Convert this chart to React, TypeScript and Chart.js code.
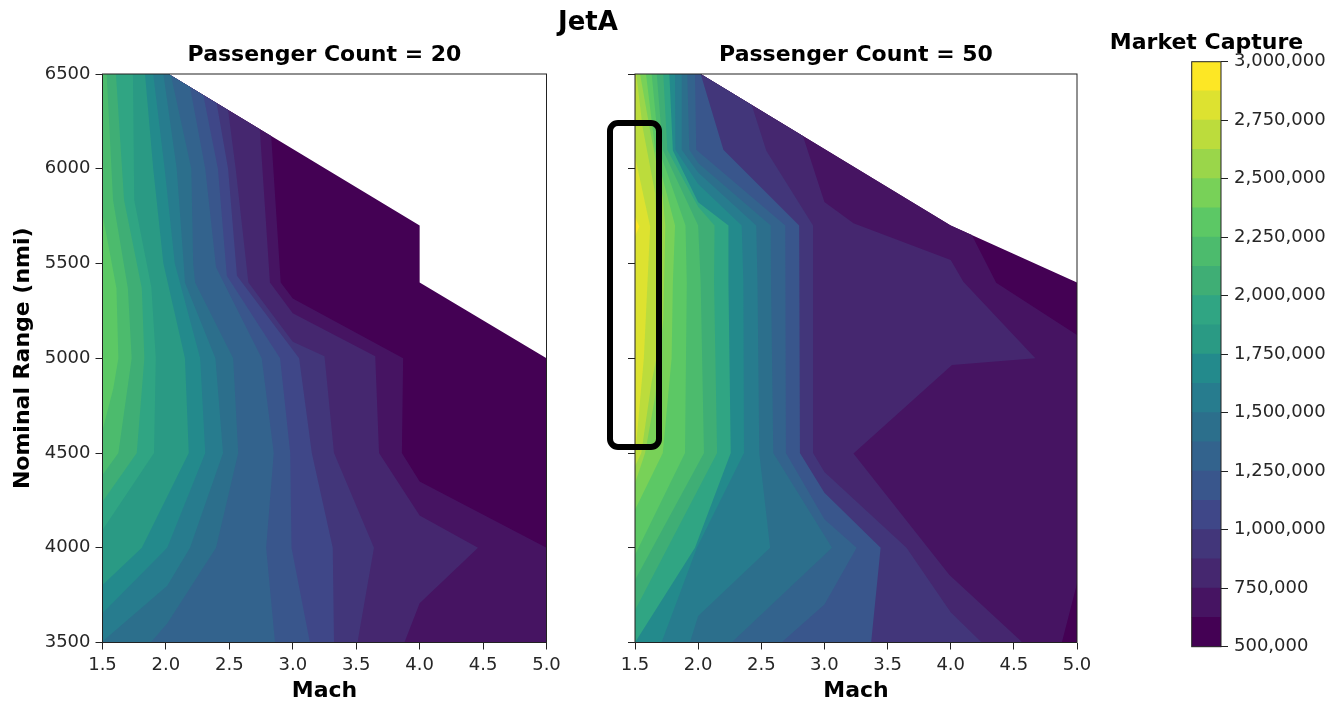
import React, { useEffect, useRef } from "react";
import { Chart, registerables } from "chart.js";

Chart.register(...registerables);

type P = [number, number];

// colours of the 20 contour bands, low to high
const bandColors = [
  "#440154", "#461462", "#45276f", "#42367a", "#3f4788", "#39568c", "#33638d", "#2c6f8c", "#277c8e", "#238a8c",
  "#2a9a84", "#30a583", "#3fae75", "#4cbb6d", "#5cc865", "#78d158", "#9ad64a", "#bcdc3c", "#dde230", "#fde725",
];
const levels = [500000, 625000, 750000, 875000, 1000000, 1125000, 1250000, 1375000, 1500000, 1625000, 1750000, 1875000,
  2000000, 2125000, 2250000, 2375000, 2500000, 2625000, 2750000, 2875000, 3000000];

// feasible regions (Mach, nominal range)
const leftFeasible: P[] = [[1.5, 3500], [1.5, 6500], [2.02, 6500], [4, 5700], [4, 5400], [5, 5000], [5, 3500]];
const rightFeasible: P[] = [[1.5, 3500], [1.5, 6500], [2.02, 6500], [4, 5700], [5, 5400], [5, 3500]];

// left panel: lower boundary of each band
const left1: P[] = [[2.83, 6173], [2.905, 5400], [3, 5315], [3.87, 5000], [3.86, 4500], [4, 4350], [5, 4000]];
const left2: P[] = [[2.74, 6209], [2.82, 5400], [3, 5238], [3.65, 5010], [3.68, 4500], [4, 4170], [4.46, 4000], [4, 3707], [3.88, 3500]];
const left3: P[] = [[2.49, 6310], [2.55, 6000], [2.65, 5400], [3, 5087], [3.25, 5010], [3.325, 4500], [3.64, 4000], [3.51, 3500]];
const left4: P[] = [[2.4, 6346], [2.49, 6000], [2.56, 5435], [3.05, 5000], [3.15, 4500], [3.315, 4000], [3.325, 3500]];
const left5: P[] = [[2.295, 6388], [2.41, 6000], [2.48, 5435], [2.9, 5000], [2.98, 4500], [2.99, 4000], [3.135, 3500]];
const left6: P[] = [[2.19, 6431], [2.31, 6000], [2.395, 5480], [2.755, 5000], [2.85, 4500], [2.79, 4000], [2.86, 3500]];
const left7: P[] = [[2.04, 6492], [2.2, 6000], [2.215, 5500], [2.23, 5400], [2.53, 5000], [2.57, 4500], [2.395, 4000], [2.01, 3600], [1.88, 3500]];
const left8: P[] = [[1.98, 6500], [2.085, 6000], [2.14, 5500], [2.15, 5400], [2.39, 5000], [2.45, 4500], [2.19, 4000], [2.01, 3800], [1.5, 3505]];
const left9: P[] = [[1.9, 6500], [1.99, 6000], [2.07, 5500], [2.27, 5000], [2.31, 4500], [2.01, 4000], [1.5, 3654]];
const left10: P[] = [[1.835, 6500], [1.9, 6000], [1.98, 5500], [2.15, 5000], [2.18, 4500], [1.81, 4000], [1.5, 3803]];
const left11: P[] = [[1.74, 6500], [1.75, 5835], [1.885, 5375], [1.92, 5000], [1.906, 4500], [1.5, 4094]];
const left12: P[] = [[1.606, 6500], [1.67, 5835], [1.81, 5370], [1.83, 5000], [1.77, 4500], [1.5, 4243]];
const left13: P[] = [[1.533, 6500], [1.583, 5835], [1.7, 5370], [1.73, 5000], [1.625, 4500], [1.5, 4384]];
const left14: P[] = [[1.5, 5760], [1.61, 5370], [1.625, 5000], [1.585, 4840], [1.5, 4620]];
const leftBands: [number, P[]][] = [[1, left1], [2, left2], [3, left3], [4, left4], [5, left5], [6, left6], [7, left7], [8, left8],
  [9, left9], [10, left10], [11, left11], [12, left12], [13, left13], [14, left14]];

// right panel: lower boundary of each band
const right1: P[] = [[4, 5700], [4.167, 5650], [4.36, 5399], [5, 5123], [5, 3812], [4.88, 3500]];
const right2: P[] = [[2.83, 6173], [3, 5825], [3.23, 5712], [4, 5518], [4.1, 5404], [4.67, 5000], [4.01, 4965], [3.23, 4498], [3.99, 3856], [4.56, 3505], [4.56, 3500]];
const right3: P[] = [[2.424, 6337], [2.54, 6095], [2.91, 5700], [2.91, 4500], [3, 4400], [3.65, 4000], [4, 3660], [4.245, 3500]];
const right5: P[] = [[2.02, 6500], [2.2, 6100], [2.8, 5700], [2.806, 4500], [3, 4290], [3.445, 4000], [3.37, 3500]];
const right6: P[] = [[1.975, 6500], [1.985, 6100], [2.69, 5700], [2.695, 4500], [3, 4150], [3.255, 4000], [3, 3700], [2.66, 3500]];
const right7: P[] = [[1.914, 6500], [1.93, 6100], [2, 6030], [2.575, 5700], [2.577, 5400], [2.595, 4500], [3.06, 4000], [2.265, 3500]];
const right8: P[] = [[1.87, 6500], [1.87, 6100], [2, 5980], [2.46, 5700], [2.47, 5400], [2.484, 4500], [2.57, 4000], [2, 3640], [1.935, 3500]];
const right9: P[] = [[1.817, 6500], [1.82, 6100], [2, 5920], [2.345, 5700], [2.358, 5400], [2.363, 4500], [1.99, 4000], [1.71, 3500]];
const right11: P[] = [[1.772, 6500], [1.8, 6096], [2, 5823], [2.24, 5700], [2.24, 5400], [2.258, 4500], [1.975, 4000], [1.5, 3500]];
const right12: P[] = [[1.724, 6500], [1.756, 6100], [2, 5800], [2.13, 5700], [2.126, 5400], [2.15, 4500], [1.5, 3670]];
const right13: P[] = [[1.672, 6500], [1.72, 6100], [2, 5700], [2.02, 5400], [2.046, 4500], [1.5, 3830]];
const right14: P[] = [[1.632, 6500], [1.69, 6100], [1.9, 5700], [1.91, 5400], [1.896, 4500], [1.5, 3962]];
const right15: P[] = [[1.587, 6500], [1.66, 6100], [1.817, 5700], [1.8, 5400], [1.79, 5000], [1.72, 4500], [1.5, 4200]];
const right16: P[] = [[1.54, 6500], [1.62, 6200], [1.72, 5850], [1.74, 5700], [1.724, 5200], [1.66, 4800], [1.58, 4500], [1.5, 4340]];
const right17: P[] = [[1.51, 6500], [1.56, 6220], [1.66, 5870], [1.67, 5700], [1.67, 5000], [1.63, 4870], [1.55, 4500], [1.5, 4430]];
const right18: P[] = [[1.5, 6064], [1.62, 5695], [1.57, 5000], [1.5, 4480]];
const right19: P[] = [[1.5, 5747], [1.534, 5695], [1.5, 5642]];
const rightBands: [number, P[]][] = [[1, right1], [2, right2], [3, right3], [5, right5], [6, right6], [7, right7], [8, right8], [9, right9],
  [11, right11], [12, right12], [13, right13], [14, right14], [15, right15], [16, right16], [17, right17], [18, right18], [19, right19]];

const machTicks = { min: 1.5, max: 5, step: 0.5 };
const rangeTicks = { min: 3500, max: 6500, step: 500 };
const colorTicks = { min: 500000, max: 3000000, step: 250000 };

const FONT = "'DejaVu Sans'";
const TICK = "#262626";
const boldFont = { family: FONT, size: 22, weight: "bold", lineHeight: 1.2 };

// closes a contour along the left side of the feasible region
function closeContour(c: P[]): P[] {
  const pts: P[] = [];
  const first = c[0];
  const last = c[c.length - 1];
  if (first[0] !== 1.5) {
    pts.push([1.5, 6500]);
    if (first[1] < 6500) pts.push([2.02, 6500]);
  }
  pts.push(...c);
  if (last[0] !== 1.5) {
    if (last[0] === 5 && last[1] > 3500) pts.push([5, 3500]);
    pts.push([1.5, 3500]);
  }
  return pts;
}

const polygon = (pts: P[], band: number) => ({
  data: pts.map(([x, y]) => ({ x, y })),
  xAxisID: "x",
  yAxisID: "y",
  showLine: true,
  fill: "shape",
  borderWidth: 0,
  pointRadius: 0,
  backgroundColor: bandColors[band],
  order: 100 - band,
});

const framePlugin = {
  id: "frame",
  afterDatasetsDraw(chart: any) {
    const { left, top, right, bottom } = chart.chartArea;
    const c = chart.ctx;
    c.save();
    c.strokeStyle = "#222";
    c.lineWidth = 1;
    c.strokeRect(left, top, right - left, bottom - top);
    c.restore();
  },
};

function panelConfig(title: string, feasible: P[], bands: [number, P[]][], showY: boolean, pad: any, yWidth: number) {
  return {
    type: "scatter",
    data: {
      datasets: [polygon(feasible, 0), ...bands.map(([b, c]) => polygon(closeContour(c), b))],
    },
    plugins: [framePlugin],
    options: {
      animation: false,
      responsive: false,
      layout: { padding: pad },
      plugins: {
        legend: { display: false },
        tooltip: { enabled: false },
      },
      scales: {
        top: {
          type: "linear",
          position: "top",
          min: machTicks.min,
          max: machTicks.max,
          afterFit(s: any) {
            s.height = 31.7;
            s.paddingLeft = 0;
            s.paddingRight = 0;
          },
          title: { display: true, text: title, color: "#000", font: boldFont, padding: 0 },
          ticks: { display: false },
          grid: { display: false },
          border: { display: false },
        },
        x: {
          type: "linear",
          min: machTicks.min,
          max: machTicks.max,
          afterFit(s: any) {
            s.height = 61.5;
            s.paddingLeft = 0;
            s.paddingRight = 0;
          },
          title: { display: true, text: "Mach", color: "#000", font: boldFont, padding: 0 },
          ticks: {
            stepSize: machTicks.step,
            autoSkip: false,
            maxRotation: 0,
            padding: 5,
            color: TICK,
            font: { family: FONT, size: 18 },
            callback: (v: any) => Number(v).toFixed(1),
          },
          grid: { drawOnChartArea: false, drawTicks: true, tickLength: 7, tickColor: "#222", tickWidth: 1 },
          border: { display: false },
        },
        y: {
          type: "linear",
          min: rangeTicks.min,
          max: rangeTicks.max,
          afterFit(s: any) {
            s.width = yWidth;
            s.paddingTop = 0;
            s.paddingBottom = 0;
          },
          title: { display: showY, text: "Nominal Range (nmi)", color: "#000", font: boldFont, padding: 0 },
          ticks: {
            display: showY,
            stepSize: rangeTicks.step,
            padding: 5,
            color: TICK,
            font: { family: FONT, size: 18 },
            callback: (v: any) => String(v),
          },
          grid: { drawOnChartArea: false, drawTicks: true, tickLength: 7, tickColor: "#222", tickWidth: 1 },
          border: { display: false },
        },
      },
    },
  };
}

function colorbarConfig() {
  const datasets = bandColors.map((color, i) => ({
    data: [[levels[i], levels[i + 1]]],
    xAxisID: "x",
    yAxisID: "y",
    backgroundColor: color,
    borderWidth: 0,
    barPercentage: 1,
    categoryPercentage: 1,
    grouped: false,
  }));
  return {
    type: "bar",
    data: { labels: [""], datasets },
    plugins: [framePlugin],
    options: {
      animation: false,
      responsive: false,
      layout: { padding: { left: 0, top: 30.3, right: 0, bottom: 57.3 } },
      plugins: {
        legend: { display: false },
        tooltip: { enabled: false },
        title: {
          display: true,
          text: "Market Capture",
          color: "#000",
          font: boldFont,
          padding: { top: 0, bottom: 5 },
        },
      },
      scales: {
        x: { display: false },
        spacer: {
          type: "linear",
          position: "left",
          afterFit(s: any) {
            s.width = 116.7;
          },
          ticks: { display: false },
          grid: { display: false },
          border: { display: false },
        },
        y: {
          position: "right",
          min: colorTicks.min,
          max: colorTicks.max,
          afterFit(s: any) {
            s.width = 117;
            s.paddingTop = 0;
            s.paddingBottom = 0;
          },
          ticks: {
            stepSize: colorTicks.step,
            padding: 6,
            color: TICK,
            font: { family: FONT, size: 18 },
            callback: (v: any) => Number(v).toLocaleString("en-US"),
          },
          grid: { drawOnChartArea: false, drawTicks: true, tickLength: 7, tickColor: "#222", tickWidth: 1 },
          border: { display: false },
        },
      },
    },
  };
}

const abs = (left: number, width: number): React.CSSProperties => ({ position: "absolute", left, top: 0, width, height: 704 });

export default function App() {
  const a = useRef<HTMLCanvasElement>(null);
  const b = useRef<HTMLCanvasElement>(null);
  const c = useRef<HTMLCanvasElement>(null);
  useEffect(() => {
    const charts = [
      new Chart(a.current as any, panelConfig("Passenger Count = 20", leftFeasible, leftBands, true, { left: 10, top: 42.3, right: 53.5, bottom: 0 }, 92.5) as any),
      new Chart(b.current as any, panelConfig("Passenger Count = 50", rightFeasible, rightBands, false, { left: 0, top: 42.3, right: 23, bottom: 0 }, 35) as any),
      new Chart(c.current as any, colorbarConfig() as any),
    ];
    return () => charts.forEach((ch) => ch.destroy());
  }, []);
  return (
    <div style={{ position: "fixed", left: 0, top: 0, width: 1338, height: 704, background: "#fff", overflow: "hidden" }}>
      <canvas ref={a} width={600} height={704} style={abs(0, 600)} />
      <canvas ref={b} width={500} height={704} style={abs(600, 500)} />
      <canvas ref={c} width={263} height={704} style={abs(1075, 263)} />
      <div style={{ position: "absolute", left: 488, width: 200, top: 5, textAlign: "center", font: `bold 26px ${FONT}`, lineHeight: "32px", color: "#000" }}>JetA</div>
      <div style={{ position: "absolute", left: 607, top: 120, width: 55, height: 330, boxSizing: "border-box", border: "6.5px solid #000", borderRadius: 11 }} />
    </div>
  );
}
